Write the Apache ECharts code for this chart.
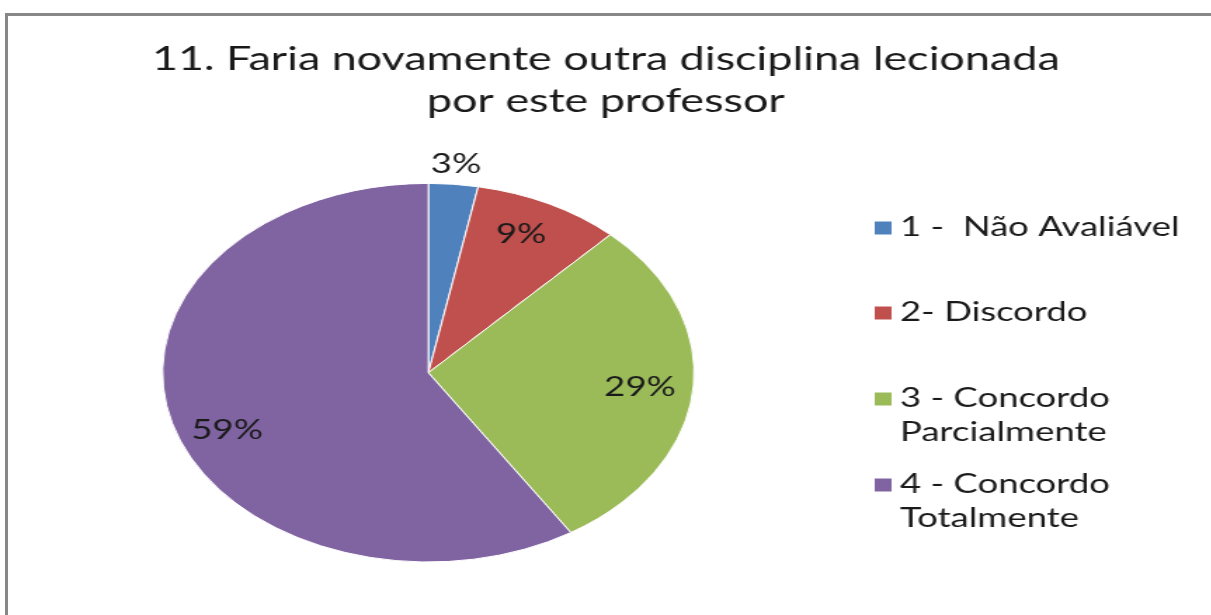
<!DOCTYPE html>
<html>
<head>
<meta charset="utf-8">
<script src="https://cdn.jsdelivr.net/npm/echarts@6/dist/echarts.min.js"></script>
<style>
  html, body { margin: 0; padding: 0; background: #fff; overflow: hidden; }
  #frame { position: absolute; left: 5px; top: 13px; width: 1400px; height: 800px; border: 3px solid #878787; }
  /* the reference is stretched sideways, so the chart is drawn narrow and scaled in x */
  #chart { position: absolute; left: 0; top: 0; width: 862.5px; height: 615px; transform: scaleX(1.404); transform-origin: 0 0; }
</style>
</head>
<body>
<div id="frame"></div>
<div id="chart"></div>
<script>
(function() {
  'use strict';

  // ========== Data ==========
  var categories = ['1 -  Não Avaliável', '2- Discordo', '3 - Concordo\nParcialmente', '4 - Concordo\nTotalmente'];
  var percents = [3, 9, 29, 59];
  var colors = ['#4F81BD', '#C0504D', '#9BBB59', '#8064A2'];
  var title = '11. Faria novamente outra disciplina lecionada\npor este professor';

  var font = 'Lato, "Open Sans", sans-serif';
  var ink = '#1a1a1a';
  var cx = 305.1, cy = 372.7, r = 189.3;

  var chart = echarts.init(document.getElementById('chart'), null, { renderer: 'canvas' });

  // one legend per entry; two-line names get a blank first line so the
  // icon sits level with the first text line, like in the original
  var legendTops = [211, 296, 348, 434];
  var legends = categories.map(function(name, i) {
    var twoLines = name.indexOf('\n') >= 0;
    return {
      orient: 'vertical',
      left: 621,
      top: legendTops[i],
      padding: 0,
      itemWidth: 14,
      itemHeight: 15,
      icon: 'rect',
      selectedMode: false,
      data: [name],
      formatter: function(n) { return twoLines ? '\n' + n : n; },
      textStyle: { color: ink, fontSize: 26, fontFamily: font, lineHeight: 34 }
    };
  });

  chart.setOption({
    animation: false,
    title: {
      text: title,
      left: 'center',
      top: 39,
      padding: [0, 0, 0, 19],
      textStyle: { color: ink, fontSize: 32, fontWeight: 'normal', fontFamily: font, lineHeight: 42 }
    },
    legend: legends,
    series: [{
      name: 'fatias',
      type: 'pie',
      center: [cx, cy],
      radius: [0, r],
      startAngle: 90,
      clockwise: true,
      label: { show: false },
      labelLine: { show: false },
      emphasis: { disabled: true },
      itemStyle: { borderColor: '#fff', borderWidth: 1 },
      data: categories.map(function(name, i) {
        return { name: name, value: percents[i], itemStyle: { color: colors[i] } };
      })
    }, {
      // transparent ring that only carries the labels, at 0.8 r
      name: 'rotulos',
      type: 'pie',
      center: [cx, cy],
      radius: [r * 0.6, r],
      startAngle: 90,
      clockwise: true,
      silent: true,
      avoidLabelOverlap: false,
      itemStyle: { color: 'rgba(0,0,0,0)', borderWidth: 0 },
      emphasis: { disabled: true },
      label: {
        show: true,
        position: 'inside',
        color: ink,
        fontSize: 26,
        fontFamily: font,
        formatter: function(p) { return p.value + '%'; }
      },
      labelLine: { show: false },
      labelLayout: function(p) {
        if (p.dataIndex === 0) return { align: 'center' };
        if (p.dataIndex === 1) return { dx: -4 };
        if (p.dataIndex === 2) return { dx: -3 };
        if (p.dataIndex === 3) return { dx: 5, dy: 15 };
      },
      data: categories.map(function(name, i) {
        var d = { name: name, value: percents[i] };
        if (i === 0) {
          d.label = { position: 'outside', distanceToLabelLine: 0 };
          d.labelLine = { show: false, length: 20, length2: 0 };
        }
        return d;
      })
    }]
  });
  window.addEventListener('resize', function() { chart.resize(); });
})();
</script>
</body>
</html>
